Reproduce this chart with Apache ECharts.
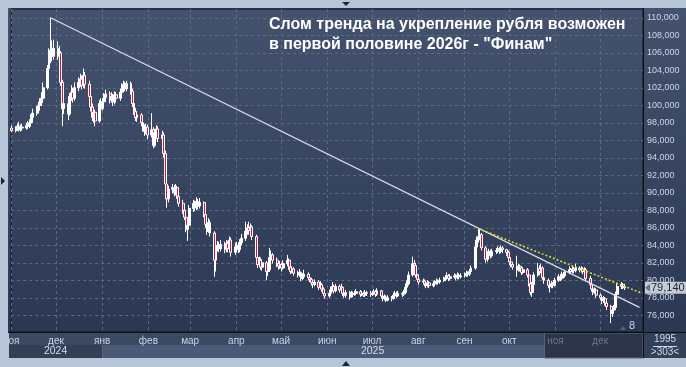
<!DOCTYPE html>
<html><head><meta charset="utf-8">
<script src="https://cdn.jsdelivr.net/npm/echarts@6/dist/echarts.min.js"></script>
<style>html,body{margin:0;padding:0;background:#b6c5d8;}#c{width:686px;height:367px;}</style>
</head><body><div id="c"></div>
<script>
// rows: [day, open, close, low, high]
const nov24 = [[1,97.4,97.1,96.9,97.7],[4,97.1,97.3,96.9,97.6],[5,97.3,97.6,97.1,97.9],[6,97.6,97.2,97.0,98.1],[7,97.2,97.5,97.0,97.8],[8,97.5,97.4,97.1,97.9],[11,97.4,97.7,97.2,98.0],[12,97.7,97.6,97.3,98.2],[13,97.6,98.0,97.4,98.4],[14,98.0,98.6,97.8,99.0],[15,98.6,99.1,98.3,99.6],[18,99.1,99.4,98.8,99.9],[19,99.4,100.0,99.1,100.4],[20,100.0,100.3,99.7,100.8],[21,100.3,100.8,99.9,101.5],[22,100.8,102.0,100.5,102.6],[25,102.0,104.2,101.8,104.6],[26,104.2,105.3,103.9,106.5],[27,105.3,106.3,104.8,110.0],[28,106.5,105.6,105.0,107.4],[29,105.6,106.5,105.2,107.5]];
const dec24 = [[2,106.5,105.6,105.2,107.3],[3,105.6,106.0,105.1,106.8],[4,106.0,102.6,102.2,106.2],[5,102.6,99.6,97.6,102.9],[6,99.6,100.2,99.0,100.9],[9,100.2,99.0,98.3,100.6],[10,99.0,101.0,98.8,101.4],[11,101.0,101.5,100.5,102.3],[12,101.5,100.8,100.3,102.0],[13,100.8,102.0,100.5,102.6],[16,102.0,102.6,101.6,103.2],[17,102.6,103.0,102.1,103.6],[18,103.0,102.3,101.8,103.4],[19,102.3,103.4,102.0,104.2],[20,103.4,102.4,101.9,103.8],[23,102.4,101.0,100.6,102.8],[24,101.0,99.8,99.3,101.4],[25,99.8,98.6,98.2,100.2],[26,98.6,99.2,98.0,99.7],[27,99.2,98.2,97.6,99.5],[30,98.2,100.2,98.0,100.6],[31,100.2,99.6,99.2,100.8]];
const jan25 = [[1,99.6,100.4,99.4,100.8],[2,100.4,100.9,100.0,101.4],[3,100.9,101.3,100.6,101.8],[6,101.3,100.6,100.2,101.6],[7,100.6,101.0,100.3,101.5],[8,101.0,100.4,99.9,101.3],[9,100.4,101.2,100.1,101.6],[10,101.2,100.8,100.3,101.5],[13,100.8,101.5,100.5,101.9],[14,101.5,102.1,101.2,102.5],[15,102.1,102.4,101.7,102.8],[16,102.4,101.9,101.6,102.7],[17,101.9,102.5,101.6,102.8],[20,102.5,101.6,101.2,102.7],[21,101.6,100.2,99.8,101.9],[22,100.2,99.3,98.9,100.5],[23,99.3,98.6,98.2,99.7],[24,98.6,98.9,98.1,99.3],[27,98.9,98.0,97.6,99.1],[28,98.0,97.4,97.0,98.3],[29,97.4,97.0,96.5,97.8],[30,97.0,97.5,96.7,97.9],[31,97.5,96.6,96.1,97.8]];
const feb25 = [[3,96.6,97.2,96.3,99.1],[4,97.2,95.4,95.1,97.5],[5,95.4,96.9,95.2,97.3],[6,96.9,97.3,96.5,97.7],[7,97.3,96.2,95.8,97.6],[10,96.2,96.6,95.5,97.1],[11,96.6,94.5,94.0,96.9],[12,94.5,91.0,90.5,94.8],[13,91.0,89.3,88.3,92.6],[14,89.3,90.4,88.9,90.8],[17,90.4,90.6,89.9,91.0],[18,90.6,90.0,89.6,90.9],[19,90.0,90.6,89.7,91.0],[20,90.6,89.6,89.3,90.8],[21,89.6,88.8,88.4,89.9],[24,88.8,88.0,87.6,89.2],[25,88.0,87.2,86.9,88.3],[26,87.2,85.8,85.5,87.4],[27,85.8,86.3,84.5,86.6],[28,86.3,88.2,86.0,88.6]];
const mar25 = [[3,88.2,88.8,87.8,89.2],[4,88.8,88.3,87.9,89.1],[5,88.3,89.0,88.0,89.5],[6,89.0,88.5,88.1,89.3],[7,88.5,88.9,88.2,89.4],[10,88.9,87.5,87.2,89.0],[11,87.5,86.4,86.0,87.8],[12,86.4,85.6,85.2,86.7],[13,85.6,86.6,85.4,87.1],[14,86.6,85.4,85.0,86.9],[17,85.4,82.3,80.4,85.6],[18,82.3,83.8,81.0,84.2],[19,83.8,84.0,83.3,84.5],[20,84.0,83.6,83.2,84.4],[21,83.6,84.1,83.3,84.6],[24,84.1,83.5,83.1,84.4],[25,83.5,84.2,83.2,84.6],[26,84.2,83.6,83.2,84.5],[27,83.6,84.6,83.3,85.0],[28,84.6,83.2,82.7,84.9],[31,83.2,83.8,82.9,84.3]];
const apr25 = [[1,83.8,84.0,83.4,84.4],[2,84.0,83.5,83.1,84.3],[3,83.5,84.3,83.2,84.7],[4,84.3,84.8,84.0,85.3],[7,84.8,85.6,84.5,86.7],[8,85.6,86.0,85.2,86.4],[9,86.0,85.7,85.2,86.7],[10,85.7,86.1,85.3,86.5],[11,86.1,85.0,84.6,86.3],[14,85.0,82.6,82.3,85.2],[15,82.6,81.8,81.4,82.9],[16,81.8,82.3,81.5,82.7],[17,82.3,81.5,81.2,82.6],[18,81.5,82.0,81.1,82.4],[21,82.0,81.0,80.0,82.2],[22,81.0,81.2,80.5,81.5],[23,81.2,82.6,81.0,83.7],[24,82.6,82.9,82.2,83.4],[25,82.9,82.3,81.9,83.1],[28,82.3,81.9,81.5,82.6],[29,81.9,81.6,81.2,82.2],[30,81.6,81.8,81.3,82.2]];
const may25 = [[1,81.8,81.4,81.0,82.0],[2,81.4,81.9,81.2,82.3],[5,81.9,82.3,81.6,82.9],[6,82.3,81.5,81.2,82.5],[7,81.5,81.0,80.7,81.8],[8,81.0,81.3,80.8,81.6],[9,81.3,80.8,80.5,81.5],[12,80.8,80.6,80.3,81.1],[13,80.6,80.9,80.4,81.3],[14,80.9,80.2,79.9,81.0],[15,80.2,80.4,80.0,80.8],[16,80.4,80.7,80.2,81.2],[19,80.7,80.3,80.0,80.9],[20,80.3,80.1,79.8,80.6],[21,80.1,79.7,79.4,80.3],[22,79.7,79.5,79.1,79.9],[23,79.5,79.8,79.3,80.1],[26,79.8,79.2,78.9,80.0],[27,79.2,79.5,79.0,79.9],[28,79.5,79.0,78.7,79.7],[29,79.0,78.5,78.2,79.2],[30,78.5,78.2,77.9,78.7]];
const jun25 = [[2,78.2,78.5,78.0,78.9],[3,78.5,78.9,78.3,79.3],[4,78.9,79.3,78.7,79.8],[5,79.3,78.8,78.5,79.5],[6,78.8,79.3,78.6,79.6],[9,79.3,78.9,78.6,79.5],[10,78.9,79.2,78.7,79.6],[11,79.2,78.5,78.2,79.3],[12,78.5,78.3,78.0,78.7],[13,78.3,78.6,78.0,78.9],[16,78.6,78.1,77.8,78.8],[17,78.1,78.5,78.0,78.8],[18,78.5,78.4,78.1,78.7],[19,78.4,78.5,78.2,78.8],[20,78.5,78.7,78.3,79.0],[23,78.7,78.4,78.1,78.9],[24,78.4,78.5,78.2,78.8],[25,78.5,78.3,78.1,78.7],[26,78.3,78.6,78.1,78.9],[27,78.6,78.5,78.2,78.8],[30,78.5,78.4,78.1,78.8]];
const jul25 = [[1,78.4,78.5,78.2,78.8],[2,78.5,78.7,78.3,79.0],[3,78.7,78.4,78.1,78.9],[4,78.4,78.8,78.2,79.1],[7,78.8,78.2,77.9,78.9],[8,78.2,77.9,77.6,78.4],[9,77.9,78.1,77.7,78.4],[10,78.1,77.7,77.5,78.3],[11,77.7,78.0,77.6,78.3],[14,78.0,77.9,77.6,78.2],[15,77.9,78.3,77.8,78.6],[16,78.3,78.5,78.1,78.8],[17,78.5,78.2,78.0,78.7],[18,78.2,78.5,78.1,78.8],[21,78.5,78.4,78.1,78.7],[22,78.4,78.6,78.2,78.9],[23,78.6,79.2,78.4,79.5],[24,79.2,79.6,78.9,80.0],[25,79.6,80.6,79.4,81.0],[28,80.6,81.9,80.4,82.7],[29,81.9,81.7,81.3,82.3],[30,81.7,80.6,80.3,82.0],[31,80.6,80.1,79.8,80.7]];
const aug25 = [[1,80.1,79.8,79.5,80.3],[4,79.8,79.9,79.5,80.2],[5,79.9,79.6,79.3,80.1],[6,79.6,79.4,79.1,79.8],[7,79.4,79.7,79.2,80.0],[8,79.7,79.4,79.1,79.9],[11,79.4,79.6,79.2,79.9],[12,79.6,79.7,79.3,80.0],[13,79.7,79.9,79.5,80.2],[14,79.9,79.8,79.5,80.1],[15,79.8,80.0,79.6,80.3],[18,80.0,80.1,79.8,80.4],[19,80.1,80.3,79.9,80.6],[20,80.3,80.5,80.1,80.9],[21,80.5,80.2,79.9,80.7],[22,80.2,80.4,80.0,80.7],[25,80.4,80.5,80.2,80.8],[26,80.5,80.3,80.0,80.7],[27,80.3,80.6,80.1,80.9],[28,80.6,80.4,80.1,80.8],[29,80.4,80.5,80.2,80.8]];
const sep25 = [[1,80.5,80.6,80.3,80.9],[2,80.6,80.8,80.4,81.1],[3,80.8,80.7,80.4,81.0],[4,80.7,81.0,80.5,81.3],[5,81.0,81.4,80.8,81.7],[8,81.4,83.8,81.2,84.0],[9,83.8,84.6,83.5,85.0],[10,84.6,85.0,84.3,85.9],[11,85.0,85.2,84.6,85.8],[12,85.2,83.7,83.4,85.4],[15,83.7,82.4,82.0,83.9],[16,82.4,82.9,82.1,83.2],[17,82.9,83.3,82.6,83.6],[18,83.3,82.8,82.5,83.5],[19,82.8,83.3,82.6,83.6],[22,83.3,83.4,83.0,83.7],[23,83.4,83.6,83.1,83.9],[24,83.6,83.3,83.0,83.8],[25,83.3,83.7,83.1,84.0],[26,83.7,83.5,83.1,83.9],[29,83.5,83.2,82.8,83.6],[30,83.2,82.6,82.3,83.4]];
const oct25 = [[1,82.6,82.1,81.7,82.8],[2,82.1,81.8,81.5,82.3],[3,81.8,81.5,81.2,82.0],[6,81.5,81.2,80.4,82.8],[7,81.2,81.6,81.0,81.9],[8,81.6,81.4,81.0,81.8],[9,81.4,80.9,80.6,81.6],[10,80.9,81.2,80.7,81.5],[13,81.2,80.6,80.3,81.4],[14,80.6,79.6,79.3,80.8],[15,79.6,78.6,78.3,79.8],[16,78.6,79.5,78.1,79.8],[17,79.5,80.6,79.3,80.9],[20,80.6,81.3,80.4,82.0],[21,81.3,81.0,80.7,81.7],[22,81.0,81.4,80.8,81.9],[23,81.4,80.3,80.0,81.6],[24,80.3,80.0,79.6,80.6],[27,80.0,79.4,79.1,80.2],[28,79.4,79.3,78.6,79.7],[29,79.3,79.6,79.1,79.9],[30,79.6,79.4,79.1,79.8],[31,79.4,80.0,79.3,80.3]];
const nov25 = [[3,80.0,80.4,79.8,80.7],[4,80.4,80.2,79.9,80.6],[5,80.2,80.7,80.0,81.0],[6,80.7,80.5,80.2,80.9],[7,80.5,80.9,80.3,81.2],[10,80.9,81.2,80.7,81.6],[11,81.2,81.0,80.7,81.4],[12,81.0,81.3,80.8,81.7],[13,81.3,81.1,80.8,81.5],[14,81.1,81.4,80.9,81.9],[17,81.4,81.2,80.9,81.6],[18,81.2,81.3,80.9,81.6],[19,81.3,81.0,80.7,81.5],[20,81.0,81.2,80.8,81.5],[21,81.2,80.2,79.9,81.4],[24,80.2,79.5,79.2,80.5],[25,79.5,79.0,78.7,79.8],[26,79.0,78.6,78.3,79.2],[27,78.6,78.9,78.4,79.2],[28,78.9,78.3,78.0,79.1]];
const dec25 = [[1,78.3,78.0,77.7,78.5],[2,78.0,77.7,77.3,78.2],[3,77.7,77.9,77.4,78.2],[4,77.9,77.4,77.1,78.1],[5,77.4,77.0,76.6,77.6],[8,77.0,76.2,75.1,77.2],[9,76.2,76.6,75.8,76.9],[10,76.6,76.9,76.3,77.2],[11,76.9,78.4,76.7,78.7],[12,78.4,79.3,78.2,79.6],[15,79.3,79.5,79.0,79.8],[16,79.5,79.3,79.0,79.7],[17,79.3,79.14,78.9,79.6]];
const monthBlocks = [['2024-11',nov24],['2024-12',dec24],['2025-01',jan25],['2025-02',feb25],['2025-03',mar25],['2025-04',apr25],['2025-05',may25],['2025-06',jun25],['2025-07',jul25],['2025-08',aug25],['2025-09',sep25],['2025-10',oct25],['2025-11',nov25],['2025-12',dec25]];

const monthStarts = ['2024-11-01','2024-12-01','2025-01-01','2025-02-01','2025-03-01','2025-04-01','2025-05-01','2025-06-01','2025-07-01','2025-08-01','2025-09-01','2025-10-01','2025-11-01','2025-12-01'];
const monthLabels = ['ноя','дек','янв','фев','мар','апр','май','июн','июл','авг','сен','окт','ноя','дек'];
const dimFrom = '2025-11-01';
const yTicks = [76,78,80,82,84,86,88,90,92,94,96,98,100,102,104,106,108,110];
const trendWhite = [['2024-11-27',110.0],['2025-12-27',76.9]];
const trendYellow = [['2025-09-10',85.9],['2025-12-29',78.5]];
const yearLabels = ['2024','2025'];
const titleText = 'Слом тренда на укрепление рубля возможен\nв первой половине 2026г - "Финам"';

function ts(s, h) { const p = s.split('-').map(Number); return Date.UTC(p[0], p[1]-1, p[2], h||0); }
const candles = [];
monthBlocks.forEach(([ym, rows]) => rows.forEach(r => {
  const d = ym + '-' + String(r[0]).padStart(2,'0');
  candles.push([ts(d, 8), r[1], r[2], r[3], r[4]]);
}));
const monthTs = monthStarts.map(s => ts(s));
const dimTs = ts(dimFrom);
const fmt = v => v.toFixed(3).replace('.', ',');

const chart = echarts.init(document.getElementById('c'), null, {renderer: 'canvas'});
const GL = 9, GR = 643, GT = 9, GB = 332;
chart.setOption({
  animation: false,
  backgroundColor: '#b6c5d8',
  title: { text: titleText, left: 269, top: 15, padding: 0, textStyle: { color: '#ffffff', fontSize: 16, fontWeight: 'bold', fontFamily: 'Liberation Sans, Arial', lineHeight: 20 } },
  grid: { left: GL, right: 686 - GR, top: GT, bottom: 367 - GB, show: true, borderColor: '#0e121a', borderWidth: 1, backgroundColor: 'transparent' },
  xAxis: {
    type: 'value', min: ts('2024-10-31', 22), max: ts('2025-12-29', 17), scale: true,
    axisLine: { show: false }, axisTick: { show: false, customValues: monthTs },
    splitLine: { show: true, lineStyle: { color: '#5b6985', type: [3, 3], width: 1 } },
    axisLabel: {
      customValues: monthTs, margin: 4, fontSize: 10, fontFamily: 'Liberation Sans, Arial', color: '#c8d4e6',
      showMinLabel: true, showMaxLabel: true, hideOverlap: false,
      formatter: function (v) {
        let best = 0; for (let i = 0; i < monthTs.length; i++) if (Math.abs(monthTs[i] - v) < Math.abs(monthTs[best] - v)) best = i;
        return v >= dimTs ? '{d|' + monthLabels[best] + '}' : monthLabels[best];
      },
      rich: { d: { color: '#6c7790', fontSize: 10, fontFamily: 'Liberation Sans, Arial' } }
    }
  },
  yAxis: {
    type: 'value', position: 'right', min: 74.09, max: 111.0, scale: true,
    axisLine: { show: true, lineStyle: { color: '#0e121a' } },
    axisTick: { show: false, customValues: yTicks },
    splitLine: { show: true, lineStyle: { color: '#5b6985', type: [3, 3], width: 1 } },
    axisLabel: { customValues: yTicks, margin: 4, fontSize: 9, color: '#c9d6ea', fontFamily: 'Liberation Sans, Arial', formatter: fmt, showMinLabel: true, showMaxLabel: true }
  },
  series: [
    { type: 'candlestick', data: candles, barWidth: 2.4, clip: true,
      itemStyle: { color: '#ffffff', color0: '#d3123f', borderColor: '#ffffff', borderColor0: '#ffffff', borderWidth: 1 } },
    { type: 'line', data: trendWhite.map(p => [ts(p[0], 8), p[1]]), symbol: 'none', z: 5,
      lineStyle: { color: '#d9dde6', width: 1.2 } },
    { type: 'line', data: trendYellow.map(p => [ts(p[0], 8), p[1]]), symbol: 'none', z: 5,
      lineStyle: { color: '#e4e02a', width: 1.5, type: [2, 2] } }
  ]
});

const xJan = chart.convertToPixel({xAxisIndex: 0}, ts('2025-01-01'));
const xDim = chart.convertToPixel({xAxisIndex: 0}, dimTs) - 11;
const last = candles[candles.length - 1][2];
const py = chart.convertToPixel({yAxisIndex: 0}, last);
const font = '10px "Liberation Sans", Arial';
chart.setOption({ graphic: [
  { type: 'rect', z: -10, silent: true, shape: { x: 8, y: 8, width: 678, height: 325 },
    style: { fill: new echarts.graphic.LinearGradient(0, 0, 0, 1, [{offset: 0, color: '#44526e'}, {offset: 1, color: '#2c3853'}]) } },
  { type: 'rect', z: -9, silent: true, shape: { x: 9, y: 333, width: GR - 9, height: 12 }, style: { fill: '#3c4962' } },
  { type: 'rect', z: -9, silent: true, shape: { x: 9, y: 345, width: xJan - 9, height: 13 }, style: { fill: '#343f57' } },
  { type: 'rect', z: -9, silent: true, shape: { x: xJan, y: 345, width: xDim - xJan, height: 13 }, style: { fill: '#4a5975' } },
  { type: 'rect', z: -9, silent: true, shape: { x: xDim, y: 333, width: GR - xDim, height: 25 }, style: { fill: '#2c3549', stroke: '#58647c', lineWidth: 1 } },
  { type: 'rect', z: -9, silent: true, shape: { x: GR, y: 332, width: 43, height: 26 }, style: { fill: '#33405a' } },
  { type: 'line', z: 50, silent: true, shape: { x1: GR + 0.5, y1: 8, x2: GR + 0.5, y2: 358 }, style: { stroke: '#0c0f16', lineWidth: 1 } },
  { type: 'line', z: 50, silent: true, shape: { x1: 8, y1: GB + 0.5, x2: 686, y2: GB + 0.5 }, style: { stroke: '#0c0f16', lineWidth: 1 } },
  { type: 'rect', z: 60, silent: true, shape: { x: 0, y: 330, width: 8, height: 37 }, style: { fill: '#b6c5d8' } },
  { type: 'text', z: 20, silent: true, style: { text: yearLabels[0], x: (GL + xJan) / 2, y: 351.5, align: 'center', verticalAlign: 'middle', fill: '#d6deea', font: '10.5px "Liberation Sans", Arial' } },
  { type: 'text', z: 20, silent: true, style: { text: yearLabels[1], x: (xJan + GR) / 2, y: 351.5, align: 'center', verticalAlign: 'middle', fill: '#d6deea', font: '10.5px "Liberation Sans", Arial' } },
  { type: 'text', z: 20, silent: true, style: { text: '1995', x: 665, y: 339.5, align: 'center', verticalAlign: 'middle', fill: '#d0d8e6', font: font } },
  { type: 'line', z: 20, silent: true, shape: { x1: 653, y1: 346.5, x2: 677, y2: 346.5 }, style: { stroke: '#d0d8e6', lineWidth: 1 } },
  { type: 'text', z: 20, silent: true, style: { text: '>303<', x: 665, y: 352, align: 'center', verticalAlign: 'middle', fill: '#d0d8e6', font: font } },
  { type: 'text', z: 20, silent: true, style: { text: '8', x: 632, y: 326, align: 'center', verticalAlign: 'middle', fill: '#c8d4e6', font: '11px "Liberation Sans", Arial' } },
  { type: 'polygon', z: 20, silent: true, shape: { points: [[620, 330], [626, 330], [623, 326]] }, style: { fill: '#56627c' } },
  { type: 'rect', z: 70, silent: true, shape: { x: 645, y: py - 6, width: 41, height: 12 }, style: { fill: '#c3cbd5' } },
  { type: 'polygon', z: 71, silent: true, shape: { points: [[645, py], [650, py - 4], [650, py + 4]] }, style: { fill: '#6a7385' } },
  { type: 'text', z: 71, silent: true, style: { text: fmt(last), x: 651, y: py + 0.5, align: 'left', verticalAlign: 'middle', fill: '#1b2233', font: '11px "Liberation Sans", Arial' } },
  { type: 'polygon', z: 80, silent: true, shape: { points: [[342, 2], [350, 2], [346, 6]] }, style: { fill: '#1c2636' } },
  { type: 'polygon', z: 80, silent: true, shape: { points: [[1, 177], [1, 185], [5, 181]] }, style: { fill: '#1c2636' } },
  { type: 'polygon', z: 80, silent: true, shape: { points: [[342, 366], [350, 366], [346, 361]] }, style: { fill: '#1c2636' } }
]});
</script></body></html>
